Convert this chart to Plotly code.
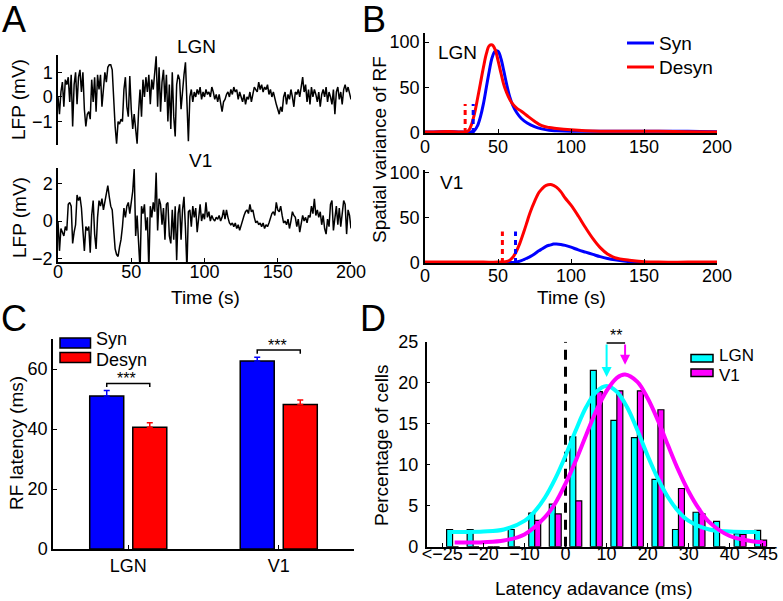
import plotly.graph_objects as go

# ---- data -------------------------------------------------------------
# A: example LFP traces (mV), one sample per second
lfp_lgn = [
    0.0, -0.7, 0.2, 0.6, -0.4, 0.7, 0.5, 0.8, -0.2, 0.9,
    -1.2, 0.5, 1.0, -0.3, 0.8, 1.1, 0.2, 1.0, -0.5, -1.2,
    -0.7, -0.6, -0.9, 0.7, -0.2, 0.8, -0.6, 0.9, 0.3, 0.9,
    -0.4, 0.4, 1.0, 0.6, 1.2, 1.3, 1.3, 1.1, -0.3, -1.2,
    -1.9, -1.0, -1.1, -0.9, -1.0, 0.3, 0.8, -0.4, -0.8, 0.85,
    -0.5, -1.3, -0.7, -1.5, -1.9, -0.6, 0.3, -0.8, 0.7, 0.0,
    0.8, 0.2, 0.9, -0.3, 0.7, 0.3, 1.0, 1.65, -0.4, 1.2,
    -0.6, 0.6, 1.1, -0.2, 0.9, -1.0, 0.5, -1.3, 1.0, -0.8,
    -1.6, 0.5, 0.9, 0.7, -0.5, 0.3, 0.9, 1.4, 0.0, -1.8,
    0.0, 0.3, -0.2, 0.2, 0.0, 0.3, 0.1, 0.4, -0.1, 0.2,
    0.0, 0.3, 0.1, 0.2, 0.0, 0.4, 0.2, -0.1, 0.1, -0.2,
    0.1, -0.3, -0.6, -0.2, -0.1, 0.1, 0.2, 0.0, 0.3, 0.1,
    0.4, 0.2, 0.3, -0.1, 0.2, 0.0, -0.2, 0.1, -0.3, 0.0,
    -0.1, 0.2, -0.2, 0.1, 0.4, 0.3, 0.2, 0.6, 0.3, 0.5,
    0.2, 0.4, 0.3, 0.5, 0.1, 0.3, 0.0, 0.2, -0.1, -0.3,
    -0.5, -0.7, -0.4, -0.6, 0.0, 0.2, -0.3, 0.1, -0.1, 0.3,
    0.0, -0.4, 0.2, 0.1, 0.3, 0.0, 0.4, 0.8, 0.2, 0.5,
    -0.2, 0.3, -0.3, 0.4, 0.0, 0.3, 0.1, -0.2, 0.2, -0.4,
    0.1, 0.3, 0.0, 0.4, -0.2, 0.2, 0.0, -0.3, 0.3, -0.7,
    0.2, 0.4, -0.1, 0.2, -0.3, 0.3, 0.5, 0.2, 0.4, 0.1,
    -0.1,
]
lfp_v1 = [
    0.0, -1.6, -0.4, -0.6, -0.8, -0.3, -0.5, 0.9, 1.0, 0.8,
    -1.2, -0.6, -0.2, 1.4, 1.1, 1.3, 0.7, -0.5, -1.6, -0.3,
    -0.5, -0.3, -1.7, 0.3, 1.1, -0.7, -1.5, 0.2, 1.1, 0.8,
    1.2, 0.6, 1.1, 1.6, 1.9, 1.3, 0.8, 0.6, -0.6, -1.5,
    -1.8, -1.9, -1.4, -1.0, -0.3, 0.7, 0.2, 0.8, 1.0, 0.4,
    1.0, 1.6, 2.8, -0.8, 0.3, -1.5, -2.6, 0.8, 0.4, 0.9,
    -0.5, 0.2, -2.6, 0.8, 0.2, 1.0, 0.5, 2.6, -0.5, 1.2,
    0.9, -0.2, 0.7, -1.0, 0.9, 1.0, -0.8, -1.2, 0.6, -1.0,
    0.8, -2.1, 0.4, 0.9, -1.0, 0.6, 1.3, -0.4, -2.6, 0.5,
    0.6, -0.3, 0.8, 0.2, 0.7, -0.6, 0.3, 0.9, 0.0, 0.4,
    0.1, 1.0, 0.2, 0.5, 0.0, 0.3, 0.1, 0.0, 0.2, 0.1,
    0.3, 0.0, 0.2, 0.6, 0.1, 0.6, 0.2, -0.1, -0.2, -0.1,
    -0.3, -0.1, -0.4, -0.2, -0.5, -0.2, 0.0, 0.3, 0.5, 0.6,
    0.4, 0.9, 0.5, 0.6, 0.2, -0.1, 0.0, -0.2, -0.1, -0.3,
    -0.1, -0.4, -0.2, -0.3, -0.1, 0.2, 0.4, 0.5, 0.3, 1.0,
    0.6, 0.5, 0.8, 0.3, -0.1, 0.0, -0.2, 0.1, -0.4, 0.0,
    0.5, 0.3, 0.2, -0.3, 0.1, -0.6, -0.2, 0.3, 0.0, 0.2,
    -0.1, 0.3, 0.2, 0.8, 0.4, 1.2, 0.3, 0.6, 0.2, 0.5,
    -0.2, 0.3, -0.4, -0.7, 0.1, -0.3, 0.9, 1.1, -0.5, 0.3,
    0.8, -0.2, 0.7, -0.3, 0.5, 1.1, 0.9, -0.7, 0.6, 0.3,
    -0.4,
]

# B: spatial variance of RF over time
rf_t_lgn = [0, 10, 20, 25, 28, 30, 32, 34, 36, 38, 40, 42, 44, 46, 48, 50, 52, 54,
            56, 58, 60, 63, 66, 70, 75, 80, 85, 90, 100, 110, 120, 140, 160, 180, 200]
rf_lgn_syn = [1, 1.5, 1.5, 1, 1, 1, 1.5, 3, 8, 18, 32, 50, 68, 83, 90, 90, 82, 68,
              53, 40, 31, 22, 16, 11, 7, 4.5, 3, 2.5, 2, 2, 2, 2, 2, 2, 1.5]
rf_lgn_desyn = [1, 1.5, 1.5, 1, 1.2, 3, 10, 22, 38, 55, 72, 87, 96, 97, 92, 80, 66, 53,
                44, 37, 32, 27, 24, 19, 13, 8, 6, 5, 3.5, 2.5, 2, 2, 2, 1.5, 1]
rf_t_v1 = [0, 20, 40, 50, 55, 58, 60, 62, 65, 68, 70, 72, 75, 78, 80, 83, 86, 88, 90,
           93, 96, 100, 105, 110, 115, 120, 125, 130, 140, 150, 160, 180, 200]
rf_v1_syn = [0.5, 0.5, 0.5, 0.5, 0.5, 0.5, 0.5, 0.8, 2, 4, 5.5, 7, 10, 13.5, 15.5, 18.5,
             20, 21, 21, 20.5, 19.5, 17.5, 14.5, 12, 9.5, 7, 5, 3.5, 1.5, 0.8, 0.5, 0.5, 0.5]
rf_v1_desyn = [1, 1, 1, 1, 1.5, 3, 6, 11, 22, 36, 46, 56, 68, 78, 82, 86, 87, 86, 84,
               79, 72, 64, 52, 39, 27, 17, 10, 6, 3, 1.5, 1, 1, 1]
onset_lgn_syn, onset_lgn_desyn = 33, 27.5
onset_v1_syn, onset_v1_desyn = 62, 53

# C: RF latency (ms), mean and SEM
regions = ["LGN", "V1"]
latency_syn = [51.0, 62.7]
latency_desyn = [40.6, 48.2]
sem_syn = [1.8, 1.2]
sem_desyn = [1.5, 1.5]

# D: latency advance histogram (% of cells) and Gaussian fits
adv_bins = [-27.5, -22.5, -17.5, -12.5, -7.5, -2.5, 2.5, 7.5, 12.5, 17.5,
            22.5, 27.5, 32.5, 37.5, 42.5, 47.5]
pct_lgn = [2.1, 2.1, 0, 2.1, 4.1, 5.2, 13.4, 21.5, 15.4, 13.3, 8.2, 2.1, 4.2, 3.1, 1.6, 2.0]
pct_v1 = [0, 0, 0, 0, 3.2, 4.0, 5.6, 18.9, 19.0, 19.0, 16.7, 7.1, 4.0, 0, 1.5, 0.8]
fit_x_lgn = [-28, -25, -20, -15, -10, -7.5, -5, -2.5, 0, 2.5, 5, 7.5, 10, 12.5, 15,
             17.5, 20, 22.5, 25, 27.5, 30, 35, 40, 46.5]
fit_lgn = [1.8, 1.8, 1.85, 2.1, 3.15, 4.3, 6.0, 8.3, 11.1, 14.2, 17.0, 18.9, 19.6, 18.9,
           17.0, 14.2, 11.1, 8.3, 6.0, 4.3, 3.15, 2.1, 1.85, 1.8]
fit_x_v1 = [-27, -25, -20, -15, -10, -5, -2.5, 0, 2.5, 5, 7.5, 10, 12.5, 14.5, 17.5,
            20, 22.5, 25, 27.5, 30, 32.5, 35, 40, 45, 48]
fit_v1 = [0.5, 0.5, 0.55, 0.75, 1.5, 3.6, 5.3, 7.7, 10.5, 13.6, 16.6, 19.0, 20.6, 21.0,
          20.1, 18.1, 15.4, 12.3, 9.3, 6.7, 4.6, 3.0, 1.3, 0.7, 0.55]
mean_adv_lgn, mean_adv_v1 = 10.0, 14.5
adv_tickvals = [-30, -20, -10, 0, 10, 20, 30, 40, 48]
adv_ticktext = ["&lt;\u221225", "\u221220", "\u221210", "0", "10", "20", "30", "40", "&gt;45"]

# ---- styling ----------------------------------------------------------
W, H = 783, 601
FONT = "Liberation Sans, Arial, Helvetica, sans-serif"
BLUE, RED, CYAN, MAGENTA = "#0000ff", "#ff0000", "#00ffff", "#ff00ff"


def px(p):
    return p / W


def py(p):
    return 1 - p / H


def axis(xdom, rng, anchor, **kw):
    d = dict(domain=xdom, range=rng, anchor=anchor, showgrid=False, zeroline=False,
             showline=True, linecolor="black", linewidth=1.5, ticks="inside",
             ticklen=4, tickwidth=1.2, tickcolor="black", automargin=False,
             tickfont=dict(size=18, color="black", family=FONT), fixedrange=True)
    d.update(kw)
    return d


fig = go.Figure()

# A
time_lgn = list(range(len(lfp_lgn)))
time_v1 = list(range(len(lfp_v1)))
fig.add_trace(go.Scatter(x=time_lgn, y=lfp_lgn, mode="lines",
                         line=dict(color="black", width=1.5), xaxis="x", yaxis="y"))
fig.add_trace(go.Scatter(x=time_v1, y=lfp_v1, mode="lines",
                         line=dict(color="black", width=1.5), xaxis="x2", yaxis="y2"))

# B
for t, syn, desyn, on_s, on_d, h, xa, ya in [
    (rf_t_lgn, rf_lgn_syn, rf_lgn_desyn, onset_lgn_syn, onset_lgn_desyn, 32, "x3", "y3"),
    (rf_t_v1, rf_v1_syn, rf_v1_desyn, onset_v1_syn, onset_v1_desyn, 35, "x4", "y4"),
]:
    fig.add_trace(go.Scatter(x=t, y=syn, mode="lines", line=dict(color=BLUE, width=3, shape="spline"),
                             xaxis=xa, yaxis=ya))
    fig.add_trace(go.Scatter(x=t, y=desyn, mode="lines", line=dict(color=RED, width=3, shape="spline"),
                             xaxis=xa, yaxis=ya))
    fig.add_trace(go.Scatter(x=[on_d, on_d], y=[0, h], mode="lines",
                             line=dict(color=RED, width=3, dash="5px,4px"), xaxis=xa, yaxis=ya))
    fig.add_trace(go.Scatter(x=[on_s, on_s], y=[0, h], mode="lines",
                             line=dict(color=BLUE, width=3, dash="5px,4px"), xaxis=xa, yaxis=ya))

# C
fig.add_trace(go.Bar(x=[1, 2], y=latency_syn, width=0.226, offset=-0.256,
                     marker=dict(color=BLUE, line=dict(color="black", width=1.5)),
                     error_y=dict(type="data", symmetric=False, array=sem_syn, arrayminus=[0, 0],
                                  color=BLUE, thickness=1.5, width=3),
                     xaxis="x5", yaxis="y5"))
fig.add_trace(go.Bar(x=[1, 2], y=latency_desyn, width=0.226, offset=0.03,
                     marker=dict(color=RED, line=dict(color="black", width=1.5)),
                     error_y=dict(type="data", symmetric=False, array=sem_desyn, arrayminus=[0, 0],
                                  color=RED, thickness=1.5, width=3),
                     xaxis="x5", yaxis="y5"))

# D
fig.add_trace(go.Bar(x=adv_bins, y=pct_lgn, width=1.45, offset=-1.45,
                     marker=dict(color=CYAN, line=dict(color="black", width=1.2)),
                     xaxis="x6", yaxis="y6"))
fig.add_trace(go.Bar(x=adv_bins, y=pct_v1, width=1.45, offset=0,
                     marker=dict(color=MAGENTA, line=dict(color="black", width=1.2)),
                     xaxis="x6", yaxis="y6"))
fig.add_trace(go.Scatter(x=[0, 0], y=[0, 25], mode="lines",
                         line=dict(color="black", width=3, dash="10px,7px"), xaxis="x6", yaxis="y6"))
fig.add_trace(go.Scatter(x=fit_x_lgn, y=fit_lgn, mode="lines",
                         line=dict(color=CYAN, width=4, shape="spline"), xaxis="x6", yaxis="y6"))
fig.add_trace(go.Scatter(x=fit_x_v1, y=fit_v1, mode="lines",
                         line=dict(color=MAGENTA, width=4, shape="spline"), xaxis="x6", yaxis="y6"))

# ---- shapes (legends, brackets) ----------------------------------------
shapes = []


def rect(x0, y0, x1, y1, color):
    return dict(type="rect", xref="paper", yref="paper", x0=px(x0), x1=px(x1),
                y0=py(y1), y1=py(y0), fillcolor=color, line=dict(color="black", width=1.5))


def hline(x0, x1, y, color, width=3):
    return dict(type="line", xref="paper", yref="paper", x0=px(x0), x1=px(x1),
                y0=py(y), y1=py(y), line=dict(color=color, width=width))


shapes += [hline(627, 654, 43, BLUE), hline(627, 654, 67, RED)]
shapes += [rect(60, 338, 90.5, 348, BLUE), rect(60, 352.5, 90.5, 362.5, RED)]
shapes += [rect(691, 354.5, 713, 362, CYAN), rect(691, 369, 713, 376.5, MAGENTA)]
for i, top in enumerate([55.2, 66.3]):
    c = i + 1
    shapes.append(dict(type="path", xref="x5", yref="y5",
                       path=f"M {c - 0.143},{top - 1.2} L {c - 0.143},{top} L {c + 0.143},{top} L {c + 0.143},{top - 1.2}",
                       line=dict(color="black", width=1.5)))
shapes.append(dict(type="line", xref="x6", yref="y6", x0=mean_adv_lgn, x1=mean_adv_v1,
                   y0=24.85, y1=24.85, line=dict(color="black", width=1.5)))

# ---- annotations --------------------------------------------------------
ann = []


def text(x, y, s, size=19, angle=0, xanchor="center"):
    ann.append(dict(x=px(x), y=py(y), xref="paper", yref="paper", text=s, showarrow=False,
                    xanchor=xanchor, yanchor="middle", textangle=angle,
                    font=dict(size=size, color="black", family=FONT)))


text(14, 20, "A", 36)
text(374, 20, "B", 36)
text(14, 318, "C", 36)
text(373, 318, "D", 36)
text(196, 46, "LGN")
text(200, 160, "V1")
text(457, 52, "LGN")
text(452, 183, "V1")
text(19, 100, "LFP (mV)", angle=-90)
text(19, 218, "LFP (mV)", angle=-90)
text(205, 297, "Time (s)")
text(571, 297, "Time (s)")
text(379, 150, "Spatial variance of RF", angle=-90)
text(16, 443, "RF latency (ms)", angle=-90)
text(381, 445, "Percentage of cells", angle=-90)
text(594, 588, "Latency adavance (ms)")
text(657, 43, "Syn", xanchor="left")
text(657, 67, "Desyn", xanchor="left")
text(94, 339, "Syn", 18, xanchor="left")
text(94, 360, "Desyn", 18, xanchor="left")
text(717, 355.5, "LGN", 17, xanchor="left")
text(717, 375.5, "V1", 17, xanchor="left")
text(127, 378, "***", 16)
text(277, 345, "***", 16)
text(616, 336, "**", 16)

for xm, tip, col in [(mean_adv_lgn, 20.7, CYAN), (mean_adv_v1, 22.2, MAGENTA)]:
    ann.append(dict(x=xm, y=tip, ax=xm, ay=24.85, xref="x6", yref="y6", axref="x6", ayref="y6",
                    text="", showarrow=True, arrowhead=2, arrowsize=1, arrowwidth=2, arrowcolor=col))

fig.update_layout(
    template="none",
    width=W, height=H,
    margin=dict(l=0, r=0, t=0, b=0, autoexpand=False),
    paper_bgcolor="white", plot_bgcolor="white",
    showlegend=False, hovermode=False,
    font=dict(family=FONT, color="black"),
    xaxis=axis([px(58), px(351)], [0, 200], "y", showline=False, ticks="", showticklabels=False),
    yaxis=axis([py(145), py(55)], [-1.95, 1.7], "x", tickvals=[-1, 0, 1]),
    xaxis2=axis([px(58), px(351)], [0, 200], "y2", tickvals=[0, 50, 100, 150, 200],
                ticklabelstandoff=-7),
    yaxis2=axis([py(262), py(168)], [-2.2, 2.85], "x2", tickvals=[-2, 0, 2]),
    xaxis3=axis([px(425), px(717)], [0, 200], "y3", tickvals=[0, 50, 100, 150, 200],
                ticklabelstandoff=-3),
    yaxis3=axis([py(133), py(33)], [0, 110], "x3", tickvals=[0, 50, 100]),
    xaxis4=axis([px(425), px(717)], [0, 200], "y4", tickvals=[0, 50, 100, 150, 200],
                ticklabelstandoff=-4),
    yaxis4=axis([py(263), py(170)], [0, 103], "x4", tickvals=[0, 50, 100]),
    xaxis5=axis([px(53), px(354)], [0.5, 2.5], "y5", tickvals=[1, 2], ticktext=regions),
    yaxis5=axis([py(549), py(339)], [0, 70], "x5", tickvals=[0, 20, 40, 60]),
    xaxis6=axis([px(426.7), px(775)], [-33.8, 51], "y6", tickvals=adv_tickvals,
                ticktext=adv_ticktext, ticklabelstandoff=-10),
    yaxis6=axis([py(546.7), py(341.7)], [0, 25], "x6", tickvals=[0, 5, 10, 15, 20, 25],
                ticklabelstandoff=3),
    shapes=shapes,
    annotations=ann,
)

# the page's default 8px body margin would shift the fixed-size figure
fig.write_html("out.html", config={"displayModeBar": False},
               post_script="document.body.style.margin='0px';")
